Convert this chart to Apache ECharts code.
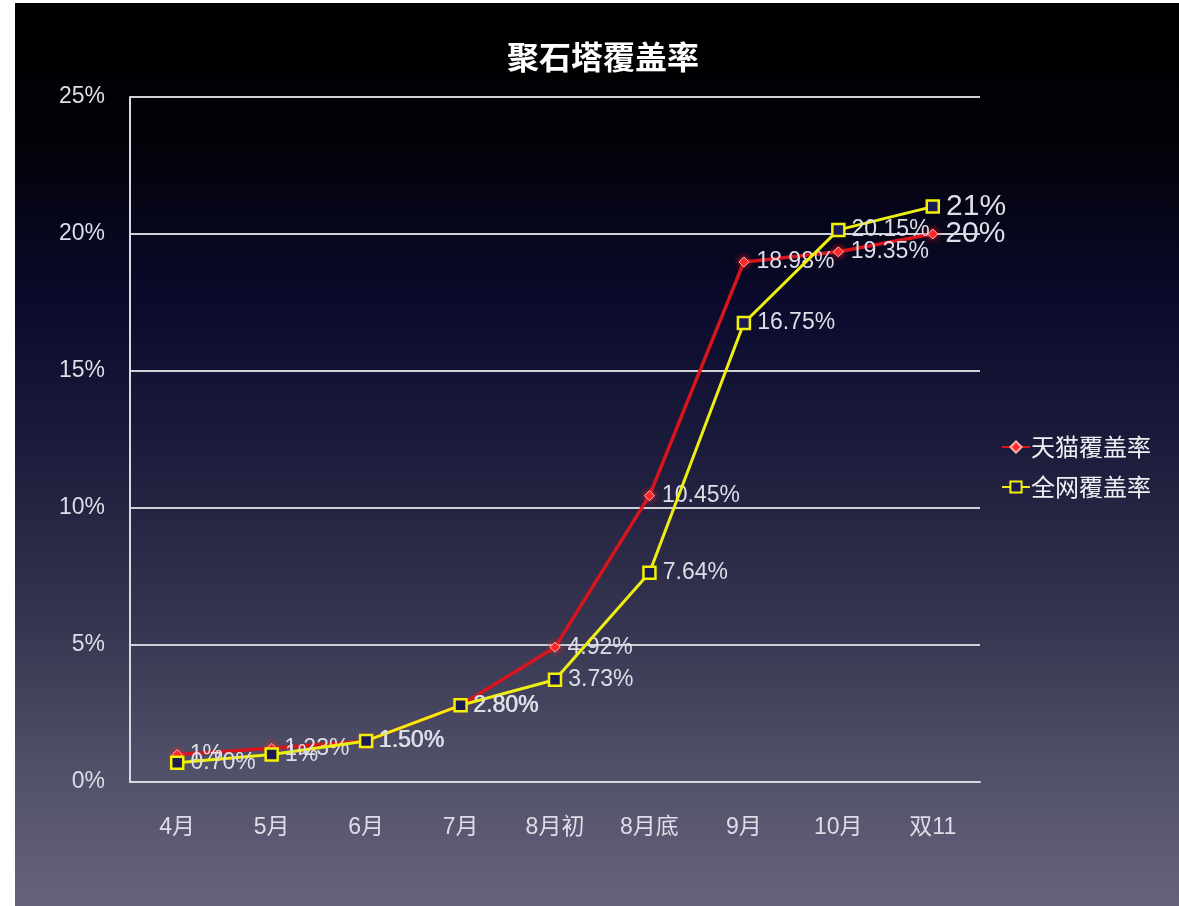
<!DOCTYPE html>
<html>
<head>
<meta charset="utf-8">
<script src="https://cdn.jsdelivr.net/npm/echarts@6/dist/echarts.min.js"></script>
<style>
html,body{margin:0;padding:0;background:#fff;}
#chart{width:1179px;height:906px;}
</style>
</head>
<body>
<div id="chart"></div>
<script>
var categories = ['4月','5月','6月','7月','8月初','8月底','9月','10月','双11'];
var tmallValues = [1, 1.23, 1.50, 2.80, 4.92, 10.45, 18.98, 19.35, 20];
var allValues = [0.70, 1, 1.50, 2.80, 3.73, 7.64, 16.75, 20.15, 21];
var tmallLabels = ['1%','1.23%','1.50%','2.80%','4.92%','10.45%','18.98%','19.35%','20%'];
var allLabels = ['0.70%','1%','1.50%','2.80%','3.73%','7.64%','16.75%','20.15%','21%'];
var yTicks = [0, 5, 10, 15, 20, 25];

var chart = echarts.init(document.getElementById('chart'), null, {renderer:'canvas'});
var labelColor = '#dedee8';
var font = '"Liberation Sans", Arial, "Noto Sans CJK SC", sans-serif';

function mkData(vals, labels) {
  return vals.map(function(v, i){
    var d = {value: v, label: {formatter: labels[i]}};
    if (i === vals.length - 1) d.label.fontSize = 30;
    return d;
  });
}

chart.setOption({
  backgroundColor: '#ffffff',
  graphic: [{
    type: 'rect', z: -10, silent: true,
    shape: {x: 15, y: 3, width: 1164, height: 903},
    style: {
      fill: new echarts.graphic.LinearGradient(0, 0, 0, 1, [
        {offset: 0, color: '#000000'},
        {offset: 0.15, color: '#020208'},
        {offset: 0.33, color: '#0a0a2c'},
        {offset: 0.5, color: '#1c1c3c'},
        {offset: 0.68, color: '#353450'},
        {offset: 0.84, color: '#504f68'},
        {offset: 1, color: '#64637a'}
      ])
    }
  }],
  title: {
    text: '聚石塔覆盖率',
    left: 598, top: 36, textAlign: 'center',
    textStyle: {color: '#ffffff', fontSize: 32, fontWeight: 'bold', fontFamily: '"Noto Sans CJK SC", sans-serif'}
  },
  legend: {
    orient: 'vertical',
    left: 996, top: 430,
    itemGap: 16,
    itemWidth: 28, itemHeight: 14,
    textStyle: {color: '#f0f0f4', fontSize: 24, fontFamily: '"Noto Sans CJK SC", sans-serif', padding: [0,0,0,-4]},
    data: ['天猫覆盖率', '全网覆盖率']
  },
  grid: {left: 130, right: 199, top: 97, bottom: 124, containLabel: false},
  xAxis: {
    type: 'category',
    data: categories,
    boundaryGap: true,
    axisLine: {show: true, lineStyle: {color: '#d8d8e0', width: 2}},
    axisTick: {show: false},
    axisLabel: {color: labelColor, fontSize: 23, margin: 34, fontFamily: font}
  },
  yAxis: {
    type: 'value',
    min: 0, max: 25, interval: 5,
    axisLine: {show: true, lineStyle: {color: '#d8d8e0', width: 2}},
    axisTick: {show: false},
    axisLabel: {color: labelColor, fontSize: 23, margin: 25, fontFamily: font,
      formatter: function(v){ return yTicks.indexOf(v) >= 0 ? v + '%' : ''; }},
    splitLine: {show: true, lineStyle: {color: '#d0d0d8', width: 2}}
  },
  series: [
    {
      name: '天猫覆盖率',
      type: 'line',
      data: mkData(tmallValues, tmallLabels),
      symbol: 'diamond',
      symbolSize: 10,
      itemStyle: {color: '#ff2a2a', borderColor: '#ffb0b0', borderWidth: 1, shadowColor: '#ff2020', shadowBlur: 6},
      lineStyle: {color: '#d8141c', width: 3.5},
      label: {show: true, position: 'right', distance: 7, color: labelColor, fontSize: 23, fontFamily: font},
      z: 2
    },
    {
      name: '全网覆盖率',
      type: 'line',
      data: mkData(allValues, allLabels),
      symbol: 'rect',
      symbolSize: 12,
      itemStyle: {color: '#1c1a55', borderColor: '#f2f200', borderWidth: 2.5},
      lineStyle: {color: '#eeee10', width: 3},
      label: {show: true, position: 'right', distance: 6, color: labelColor, fontSize: 23, fontFamily: font},
      z: 3
    }
  ]
});
</script>
</body>
</html>
